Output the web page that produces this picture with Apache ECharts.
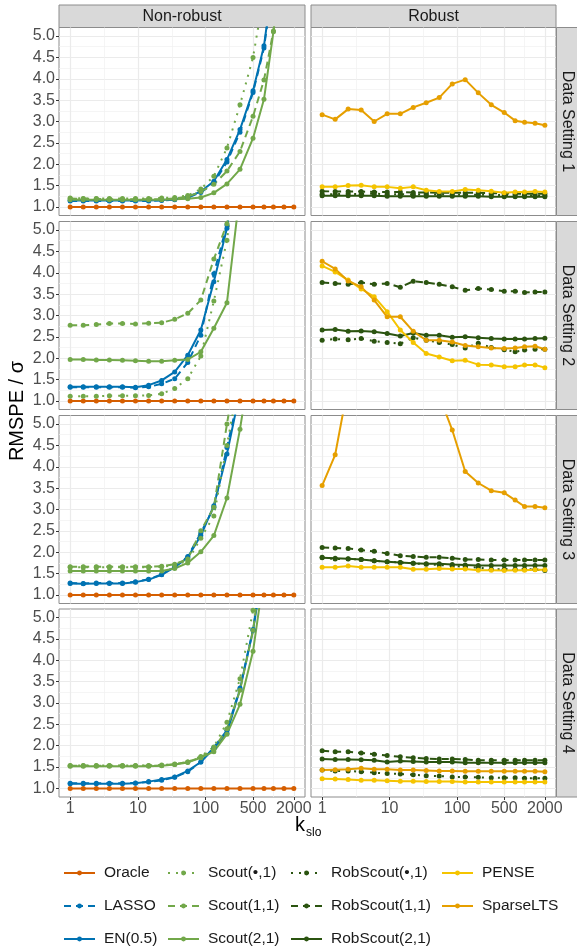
<!DOCTYPE html>
<html lang="en">
<head>
<meta charset="UTF-8">
<title>RMSPE / sigma vs k_slo</title>
<script src="https://cdn.jsdelivr.net/npm/echarts@6.0.0/dist/echarts.min.js"></script>
<style>
  html, body { margin: 0; padding: 0; background: #fff; }
  #lienzo { width: 577px; height: 952px; }
</style>
</head>
<body>
<div id="lienzo"></div>
<script>
// x values (k_slo), shared by every panel
const kslo = [1, 1.56, 2.43, 3.79, 5.91, 9.2, 14.4, 22.4, 34.9, 54.4, 84.8, 132, 206, 321, 500, 725, 1000, 1430, 2000];
const settings = ['Data Setting 1', 'Data Setting 2', 'Data Setting 3', 'Data Setting 4'];
const columns = ['Non-robust', 'Robust'];
const xTicks = [1, 10, 100, 500, 2000];
const xMinor = [3.16, 31.6, 224, 1000];
const yTicks = [1, 1.5, 2, 2.5, 3, 3.5, 4, 4.5, 5];
const yMinor = [1.25, 1.75, 2.25, 2.75, 3.25, 3.75, 4.25, 4.75];

// one row per data setting (1..4)
const oracle = [
  [1, 1, 1, 1, 1, 1, 1, 1, 1, 1, 1, 1, 1, 1, 1, 1, 1, 1, 1],
  [1, 1, 1, 1, 1, 1, 1, 1, 1, 1, 1, 1, 1, 1, 1, 1, 1, 1, 1],
  [1, 1, 1, 1, 1, 1, 1, 1, 1, 1, 1, 1, 1, 1, 1, 1, 1, 1, 1],
  [1, 1, 1, 1, 1, 1, 1, 1, 1, 1, 1, 1, 1, 1, 1, 1, 1, 1, 1]
];
const lasso = [
  [1.14, 1.14, 1.14, 1.14, 1.14, 1.14, 1.14, 1.15, 1.17, 1.22, 1.34, 1.56, 2.05, 2.75, 3.68, 4.72, 6.3, 8.4, 11],
  [1.32, 1.32, 1.32, 1.32, 1.32, 1.31, 1.33, 1.40, 1.52, 1.90, 2.54, 3.98, 5.12, 7.2, 9.5, 12, 15, 18, 21],
  [1.28, 1.27, 1.28, 1.28, 1.28, 1.31, 1.37, 1.48, 1.66, 1.90, 2.45, 3.05, 4.45, 5.8, 7.5, 9.5, 12, 14, 17],
  [1.12, 1.12, 1.12, 1.12, 1.12, 1.13, 1.15, 1.19, 1.26, 1.39, 1.62, 1.96, 2.36, 3.35, 4.72, 6.4, 8.5, 11, 14]
];
const en = [
  [1.15, 1.15, 1.15, 1.15, 1.15, 1.15, 1.15, 1.16, 1.18, 1.24, 1.36, 1.60, 2.11, 2.81, 3.72, 4.77, 6.4, 8.5, 11],
  [1.33, 1.33, 1.33, 1.33, 1.33, 1.32, 1.37, 1.48, 1.68, 2.07, 2.66, 3.79, 5.04, 7.0, 9.3, 12, 15, 18, 21],
  [1.27, 1.26, 1.27, 1.27, 1.27, 1.30, 1.36, 1.47, 1.65, 1.88, 2.39, 3.09, 4.30, 5.76, 7.4, 9.4, 12, 14, 17],
  [1.11, 1.11, 1.11, 1.11, 1.11, 1.12, 1.16, 1.21, 1.27, 1.41, 1.62, 1.94, 2.29, 3.32, 4.70, 6.3, 8.4, 11, 14]
];
const scoutDot = [
  [1.21, 1.20, 1.20, 1.20, 1.20, 1.20, 1.20, 1.21, 1.22, 1.27, 1.42, 1.72, 2.38, 3.39, 4.50, 6.0, 8, 10, 13],
  [1.11, 1.11, 1.11, 1.12, 1.12, 1.12, 1.13, 1.17, 1.29, 1.52, 2.05, 3.34, 4.76, 7.0, 9.5, 12, 15, 18, 21],
  [1.65, 1.65, 1.65, 1.65, 1.65, 1.65, 1.65, 1.66, 1.70, 1.80, 2.33, 2.85, 4.50, 6.2, 8, 10, 12, 14, 17],
  [1.54, 1.54, 1.54, 1.54, 1.54, 1.54, 1.54, 1.55, 1.56, 1.62, 1.75, 1.97, 2.55, 3.57, 5.17, 7.0, 9, 11, 14]
];
const scout11 = [
  [1.20, 1.19, 1.19, 1.18, 1.18, 1.18, 1.18, 1.18, 1.20, 1.24, 1.36, 1.53, 1.84, 2.30, 3.12, 3.97, 5.12, 6.8, 9],
  [2.77, 2.77, 2.79, 2.81, 2.81, 2.80, 2.82, 2.83, 2.91, 3.05, 3.36, 4.32, 5.15, 7.0, 9.5, 12, 15, 18, 21],
  [1.66, 1.66, 1.66, 1.66, 1.66, 1.66, 1.66, 1.67, 1.72, 1.84, 2.50, 3.05, 5.00, 6.8, 8.5, 10, 12, 14, 17],
  [1.53, 1.53, 1.53, 1.53, 1.53, 1.53, 1.53, 1.54, 1.57, 1.62, 1.73, 1.92, 2.40, 3.30, 4.70, 6.6, 8.5, 11, 14]
];
const scout21 = [
  [1.17, 1.17, 1.17, 1.17, 1.17, 1.17, 1.17, 1.17, 1.18, 1.19, 1.22, 1.33, 1.54, 1.88, 2.61, 3.52, 5.10, 7.0, 9.5],
  [1.97, 1.97, 1.96, 1.96, 1.95, 1.94, 1.93, 1.93, 1.95, 1.97, 2.15, 2.70, 3.30, 5.90, 8.0, 10, 13, 16, 19],
  [1.56, 1.56, 1.56, 1.56, 1.56, 1.56, 1.56, 1.56, 1.62, 1.75, 2.01, 2.39, 3.27, 4.88, 6.8, 8.5, 10, 12, 15],
  [1.52, 1.52, 1.52, 1.52, 1.52, 1.52, 1.52, 1.53, 1.56, 1.61, 1.72, 1.86, 2.27, 2.97, 4.21, 6.0, 8, 10, 13]
];
const robScoutDot = [
  [1.30, 1.30, 1.31, 1.30, 1.31, 1.30, 1.30, 1.29, 1.30, 1.29, 1.29, 1.28, 1.29, 1.28, 1.28, 1.28, 1.27, 1.27, 1.27],
  [2.42, 2.45, 2.43, 2.46, 2.40, 2.37, 2.34, 2.48, 2.42, 2.37, 2.32, 2.24, 2.35, 2.25, 2.20, 2.15, 2.19, 2.21, 2.21],
  [1.88, 1.84, 1.84, 1.83, 1.80, 1.78, 1.76, 1.74, 1.72, 1.70, 1.68, 1.66, 1.64, 1.60, 1.60, 1.60, 1.60, 1.60, 1.57],
  [1.43, 1.41, 1.41, 1.39, 1.37, 1.35, 1.34, 1.32, 1.30, 1.29, 1.27, 1.27, 1.26, 1.25, 1.25, 1.25, 1.24, 1.24, 1.24]
];
const robScout11 = [
  [1.37, 1.36, 1.36, 1.36, 1.35, 1.35, 1.35, 1.34, 1.34, 1.33, 1.33, 1.33, 1.33, 1.32, 1.32, 1.31, 1.31, 1.31, 1.31],
  [3.77, 3.75, 3.73, 3.77, 3.73, 3.75, 3.66, 3.80, 3.77, 3.73, 3.67, 3.59, 3.63, 3.61, 3.57, 3.57, 3.54, 3.55, 3.55],
  [2.11, 2.10, 2.09, 2.05, 2.02, 1.97, 1.92, 1.90, 1.88, 1.88, 1.86, 1.83, 1.83, 1.82, 1.82, 1.82, 1.82, 1.82, 1.82],
  [1.88, 1.86, 1.86, 1.83, 1.80, 1.77, 1.74, 1.72, 1.70, 1.69, 1.69, 1.68, 1.66, 1.66, 1.66, 1.66, 1.66, 1.66, 1.66]
];
const robScout21 = [
  [1.26, 1.26, 1.26, 1.26, 1.26, 1.25, 1.25, 1.25, 1.25, 1.25, 1.25, 1.25, 1.25, 1.24, 1.24, 1.24, 1.24, 1.24, 1.24],
  [2.66, 2.67, 2.63, 2.64, 2.62, 2.58, 2.52, 2.59, 2.54, 2.54, 2.49, 2.50, 2.48, 2.46, 2.45, 2.45, 2.45, 2.46, 2.47],
  [1.87, 1.86, 1.85, 1.83, 1.80, 1.78, 1.76, 1.74, 1.73, 1.73, 1.71, 1.70, 1.69, 1.69, 1.69, 1.69, 1.69, 1.69, 1.69],
  [1.69, 1.68, 1.68, 1.67, 1.66, 1.62, 1.64, 1.63, 1.62, 1.62, 1.62, 1.60, 1.60, 1.60, 1.60, 1.60, 1.60, 1.60, 1.60]
];
const pense = [
  [1.47, 1.47, 1.50, 1.51, 1.47, 1.47, 1.44, 1.47, 1.39, 1.36, 1.36, 1.41, 1.39, 1.37, 1.33, 1.35, 1.35, 1.36, 1.35],
  [4.16, 4.02, 3.83, 3.62, 3.44, 3.09, 2.66, 2.37, 2.11, 2.03, 1.94, 1.95, 1.85, 1.84, 1.80, 1.80, 1.84, 1.84, 1.78],
  [1.65, 1.65, 1.68, 1.65, 1.65, 1.65, 1.65, 1.60, 1.60, 1.62, 1.61, 1.61, 1.58, 1.58, 1.57, 1.58, 1.58, 1.59, 1.59],
  [1.23, 1.22, 1.21, 1.19, 1.19, 1.18, 1.17, 1.17, 1.16, 1.16, 1.16, 1.15, 1.15, 1.15, 1.15, 1.15, 1.15, 1.15, 1.15]
];
const sparseLTS = [
  [3.16, 3.05, 3.29, 3.27, 3.00, 3.18, 3.18, 3.33, 3.44, 3.56, 3.88, 3.98, 3.67, 3.39, 3.21, 3.02, 2.98, 2.96, 2.91],
  [4.27, 4.09, 3.81, 3.67, 3.36, 2.97, 2.97, 2.63, 2.42, 2.42, 2.38, 2.30, 2.27, 2.24, 2.23, 2.24, 2.27, 2.28, 2.21],
  [3.56, 4.28, 5.9, 7.5, 8.5, 9.0, 9.2, 8.5, 7.5, 5.66, 4.86, 3.89, 3.62, 3.44, 3.39, 3.22, 3.07, 3.07, 3.04],
  [1.43, 1.44, 1.45, 1.47, 1.45, 1.45, 1.43, 1.43, 1.42, 1.41, 1.41, 1.40, 1.40, 1.40, 1.40, 1.40, 1.40, 1.40, 1.39]
];

const font = '"Liberation Sans", Arial, sans-serif';
const tops = [27.5, 221.5, 415.5, 609];
const panelH = 188;
const lefts = [59, 311];
const widths = [246, 245];

const methods = [
  { name: 'Oracle', col: 0, values: oracle, color: '#D55E00', dash: 'solid' },
  { name: 'LASSO', col: 0, values: lasso, color: '#0072B2', dash: [7, 5] },
  { name: 'EN(0.5)', col: 0, values: en, color: '#0072B2', dash: 'solid' },
  { name: 'Scout(•,1)', col: 0, values: scoutDot, color: '#72A84A', dash: [2, 6] },
  { name: 'Scout(1,1)', col: 0, values: scout11, color: '#72A84A', dash: [7, 5] },
  { name: 'Scout(2,1)', col: 0, values: scout21, color: '#72A84A', dash: 'solid' },
  { name: 'RobScout(•,1)', col: 1, values: robScoutDot, color: '#2B5410', dash: [2, 6] },
  { name: 'RobScout(1,1)', col: 1, values: robScout11, color: '#2B5410', dash: [7, 5] },
  { name: 'RobScout(2,1)', col: 1, values: robScout21, color: '#2B5410', dash: 'solid' },
  { name: 'PENSE', col: 1, values: pense, color: '#F5C400', dash: 'solid' },
  { name: 'SparseLTS', col: 1, values: sparseLTS, color: '#E69F00', dash: 'solid' }
];

const grids = [], xAxes = [], yAxes = [], series = [], graphics = [];

settings.forEach((setting, s) => {
  columns.forEach((colName, c) => {
    const p = s * 2 + c;
    const bottomRow = s === settings.length - 1;
    grids.push({
      left: lefts[c], top: tops[s], width: widths[c], height: panelH,
      show: true, borderColor: '#8c8c8c', borderWidth: 1, backgroundColor: '#fff'
    });
    // major x axis
    xAxes.push({
      type: 'log', logBase: 10, gridIndex: p, min: 0.684, max: 2924,
      axisLine: { show: false },
      axisTick: { show: bottomRow, customValues: xTicks, length: 3, lineStyle: { color: '#333' } },
      axisLabel: {
        show: bottomRow, customValues: xTicks, margin: 4, fontSize: 16, color: '#4d4d4d',
        fontFamily: font, formatter: v => String(Math.round(v))
      },
      splitLine: { show: true, lineStyle: { color: '#ebebeb', width: 1.2 } }
    });
    // minor x grid
    xAxes.push({
      type: 'log', logBase: 10, gridIndex: p, min: 0.684, max: 2924,
      axisLine: { show: false },
      axisTick: { show: false, customValues: xMinor },
      axisLabel: { show: false },
      splitLine: { show: true, lineStyle: { color: '#f0f0f0', width: 0.7 } }
    });
    yAxes.push({
      type: 'value', gridIndex: p, min: 0.8, max: 5.2,
      axisLine: { show: false },
      axisTick: { show: c === 0, customValues: yTicks, length: 3, lineStyle: { color: '#333' } },
      axisLabel: {
        show: c === 0, customValues: yTicks, margin: 4, fontSize: 16, color: '#4d4d4d',
        fontFamily: font, formatter: v => v.toFixed(1)
      },
      splitLine: { show: true, lineStyle: { color: '#ebebeb', width: 1.2 } }
    });
    yAxes.push({
      type: 'value', gridIndex: p, min: 0.8, max: 5.2,
      axisLine: { show: false },
      axisTick: { show: false, customValues: yMinor },
      axisLabel: { show: false },
      splitLine: { show: true, lineStyle: { color: '#f0f0f0', width: 0.7 } }
    });

    methods.filter(m => m.col === c).forEach(m => {
      series.push({
        name: m.name, type: 'line',
        xAxisIndex: p * 2, yAxisIndex: p * 2,
        data: kslo.map((k, i) => [k, m.values[s][i]]),
        symbol: 'circle', symbolSize: 5, showSymbol: true,
        clip: true, silent: true,
        itemStyle: { color: m.color },
        lineStyle: { color: m.color, width: 2, type: m.dash },
        emphasis: { disabled: true }
      });
    });
  });

  // right-hand strip
  graphics.push({
    type: 'rect', shape: { x: 556.5, y: tops[s], width: 21, height: panelH },
    style: { fill: '#d9d9d9', stroke: '#8c8c8c', lineWidth: 1 }
  });
  graphics.push({
    type: 'text', x: 567, y: tops[s] + panelH / 2, rotation: -Math.PI / 2,
    style: {
      text: setting, fontSize: 16, fontFamily: font, fill: '#1a1a1a',
      align: 'center', verticalAlign: 'middle', textAlign: 'center', textVerticalAlign: 'middle'
    }
  });
});

// top strips
columns.forEach((colName, c) => {
  graphics.push({
    type: 'rect', shape: { x: lefts[c], y: 5, width: widths[c], height: 22.5 },
    style: { fill: '#d9d9d9', stroke: '#8c8c8c', lineWidth: 1 }
  });
  graphics.push({
    type: 'text', x: lefts[c] + widths[c] / 2, y: 16.5,
    style: {
      text: colName, fontSize: 16, fontFamily: font, fill: '#1a1a1a',
      align: 'center', verticalAlign: 'middle', textAlign: 'center', textVerticalAlign: 'middle'
    }
  });
});

// axis titles
graphics.push({
  type: 'text', x: 17, y: 411, rotation: Math.PI / 2,
  style: {
    text: 'RMSPE / σ', fontSize: 20, fontFamily: font, fill: '#000',
    align: 'center', verticalAlign: 'middle', textAlign: 'center', textVerticalAlign: 'middle'
  }
});
graphics.push({
  type: 'text', x: 295, y: 835,
  style: { text: 'k', fontSize: 20, fontFamily: font, fill: '#000', align: 'left', verticalAlign: 'bottom', textAlign: 'left', textVerticalAlign: 'bottom' }
});
graphics.push({
  type: 'text', x: 306, y: 839,
  style: { text: 'slo', fontSize: 12, fontFamily: font, fill: '#000', align: 'left', verticalAlign: 'bottom', textAlign: 'left', textVerticalAlign: 'bottom' }
});

const legendCols = [
  ['Oracle', 'LASSO', 'EN(0.5)'],
  ['Scout(•,1)', 'Scout(1,1)', 'Scout(2,1)'],
  ['RobScout(•,1)', 'RobScout(1,1)', 'RobScout(2,1)'],
  ['PENSE', 'SparseLTS']
];
const legendLeft = [63, 167, 290, 441];
const legends = legendCols.map((names, i) => ({
  data: names, orient: 'vertical', left: legendLeft[i], top: 865,
  itemWidth: 31, itemHeight: 6, itemGap: 17, padding: 0,
  selectedMode: false,
  textStyle: { fontSize: 15.5, fontFamily: font, color: '#1a1a1a', padding: [0, 0, 0, 4] }
}));

const myChart = echarts.init(document.getElementById('lienzo'), null, { renderer: 'canvas' });
myChart.setOption({
  animation: false,
  backgroundColor: '#fff',
  textStyle: { fontFamily: font },
  grid: grids,
  xAxis: xAxes,
  yAxis: yAxes,
  legend: legends,
  series: series,
  graphic: graphics
});
</script>
</body>
</html>
